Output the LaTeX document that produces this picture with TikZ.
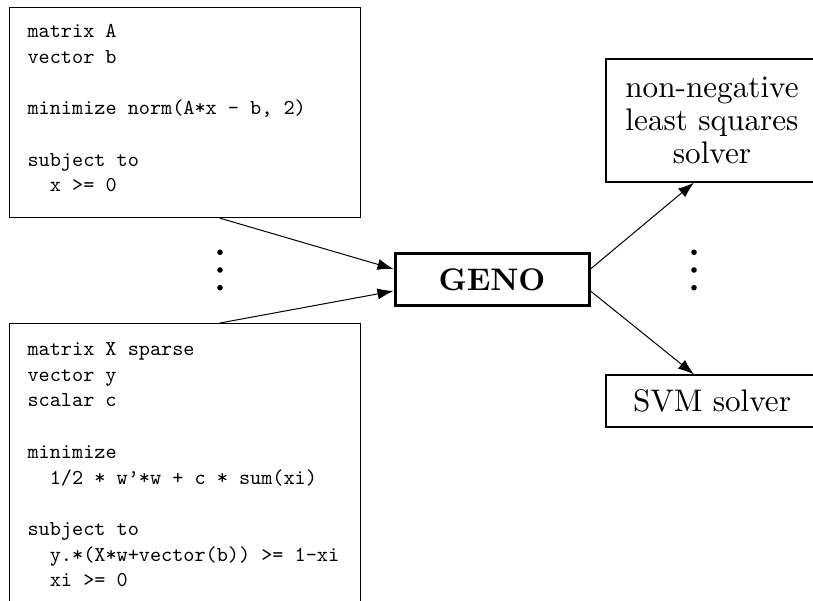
\documentclass[tikz,border=0pt]{standalone}
\usepackage{fontspec}
\setmainfont{lmroman10-regular.otf}[BoldFont=lmroman10-bold.otf]
\setmonofont{lmmono10-regular.otf}
\usepackage{tikz}
\usetikzlibrary{arrows.meta, positioning, calc}

\newcommand{\probfont}{\fontsize{10.6}{12.85}\selectfont\ttfamily}
% fixed-pitch code text: one blank is as wide as one character
\newcommand{\codespacing}{\spaceskip=\fontcharwd\font`x\relax\xspaceskip=\spaceskip}
\newcommand{\solverfont}{\fontsize{15.6}{16.6}\selectfont}
\newcommand{\indcode}{\hphantom{xx}}

\tikzset{
  probbox/.style={draw, line width=0.6pt, font=\probfont, align=left, text width=157.5pt, inner xsep=9pt, text height=7pt, anchor=north west, execute at begin node=\codespacing},
  solverbox/.style={draw, line width=0.6pt, font=\solverfont, align=center, minimum width=106pt},
  genobox/.style={draw, line width=1.5pt, font=\solverfont\bfseries, minimum width=97pt, minimum height=26pt},
  flow/.style={-{Latex[length=8pt,width=5.6pt]}, line width=0.5pt},
}

\begin{document}
\begin{tikzpicture}[x=0.5pt, y=0.5pt]
  \useasboundingbox (0,0) rectangle (813,600);

  % Input problems (left column)
  \node[probbox, inner ysep=8pt, text depth=82pt] (nnlsprob) at (9,593) {matrix A\\ vector b\\[12.85pt] minimize norm(A*x - b, 2)\\[12.85pt] subject to\\ \indcode x >= 0};
  \node[probbox, inner ysep=9pt, text depth=130pt] (svmprob) at (9,277) {matrix X sparse\\ vector y\\ scalar c\\[12.85pt] minimize\\ \indcode 1/2 * w’*w + c * sum(xi)\\[12.85pt] subject to\\ \indcode y.*(X*w+vector(b))~>=~1-xi\\ \indcode xi >= 0};

  % Modeling layer
  \node[genobox] (geno) at (492,320) {GENO};

  % Generated solvers (right column)
  \node[solverbox, minimum height=61.5pt] (nnls) at (712,479.5) {non-negative\\ least squares\\ solver};
  \node[solverbox, minimum height=26pt] (svm) at (712,199) {SVM solver};

  % Ellipsis dots between the boxes
  \coordinate (ldots) at (220,330);
  \coordinate (rdots) at (694,330);
  \foreach \c in {ldots, rdots} {
    \foreach \dy in {-17.7,0,17.7}
      \fill ($(\c)+(0,\dy)$) circle (2.8);
  }

  % Connectors
  \draw[flow] (nnlsprob.south -| ldots) -- ([yshift=5.5pt]geno.west);
  \draw[flow] (svmprob.north -| ldots) -- ([yshift=-5.5pt]geno.west);
  \draw[flow] ([yshift=5.5pt]geno.east) -- (nnls.south -| rdots);
  \draw[flow] ([yshift=-5.5pt]geno.east) -- (svm.north -| rdots);
\end{tikzpicture}
\end{document}
